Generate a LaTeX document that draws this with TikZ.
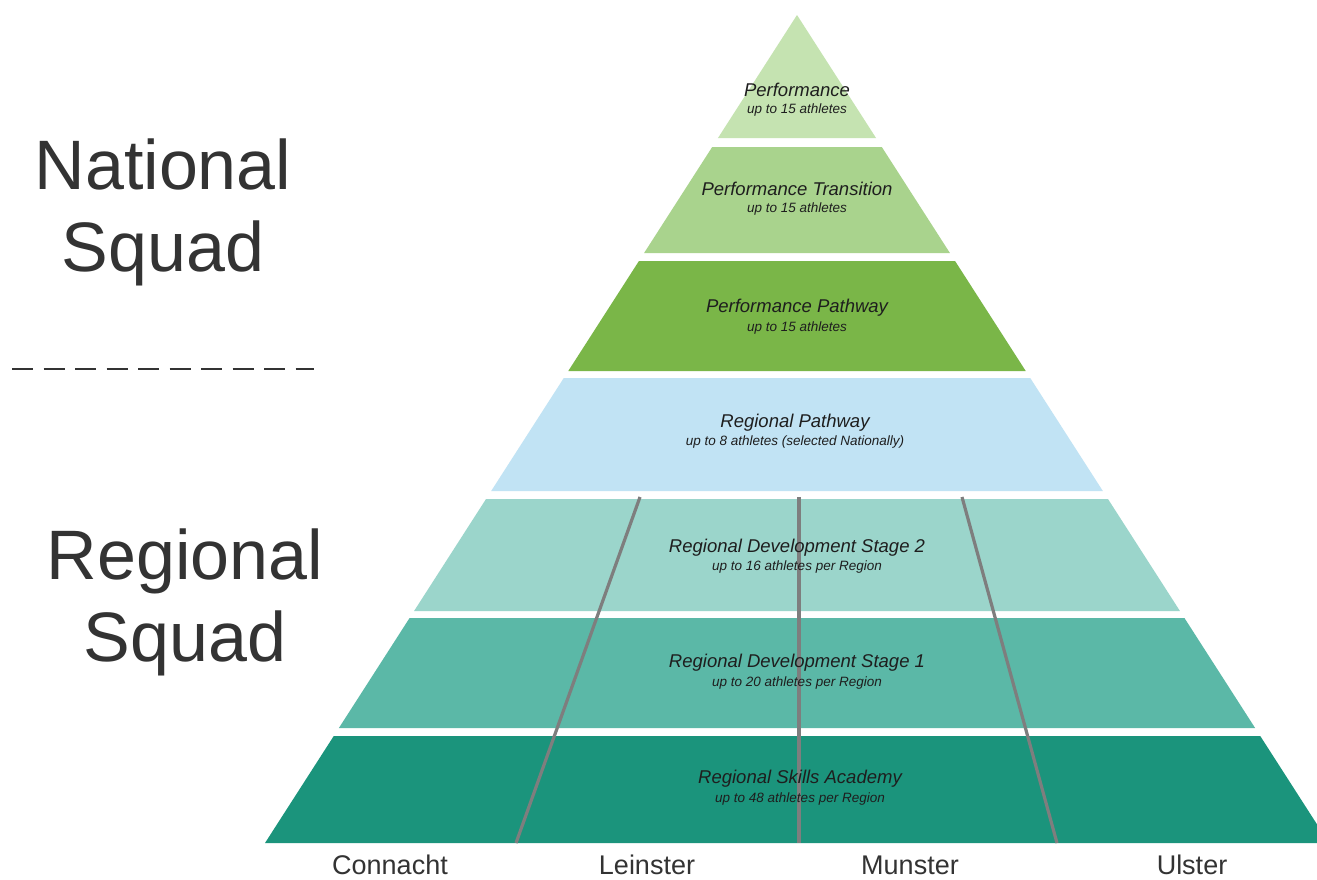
\documentclass[tikz,border=0pt]{standalone}
\usepackage{fontspec}
\setmainfont{Liberation Sans}
\definecolor{bandA}{HTML}{C5E3B1}
\definecolor{bandB}{HTML}{A9D38D}
\definecolor{bandC}{HTML}{7AB648}
\definecolor{bandD}{HTML}{C1E3F4}
\definecolor{bandE}{HTML}{9BD5CB}
\definecolor{bandF}{HTML}{5BB8A7}
\definecolor{bandG}{HTML}{1B947C}
\definecolor{divider}{HTML}{7E7E7E}
\definecolor{inktext}{HTML}{1E1E1E}
\definecolor{sidetext}{HTML}{333333}
\tikzset{
  tiertitle/.style={font=\itshape\fontsize{18.5}{21}\selectfont, text=inktext, inner sep=0pt},
  tiersub/.style={font=\itshape\fontsize{13.5}{15}\selectfont, text=inktext, inner sep=0pt},
  squad/.style={font=\fontsize{70}{80}\selectfont, text=sidetext, align=center, inner sep=0pt},
  region/.style={font=\fontsize{27}{30}\selectfont, text=sidetext, inner sep=0pt},
  divline/.style={draw=divider, line width=3.2pt},
}
\begin{document}
\begin{tikzpicture}[x=1pt,y=-1pt]
\useasboundingbox (0,0) rectangle (1317,879);
\fill[white] (0,0) rectangle (1317,879);

% pyramid tiers: apex at (797,15), side slope 0.6425 px per px
\foreach \ya/\yb/\col in {15/138/bandA, 147/253/bandB, 261/371/bandC,
                          378/491/bandD, 499/611/bandE, 618/728/bandF,
                          736/843/bandG} {
  \pgfmathsetmacro\wa{(\ya-15)*0.6425}
  \pgfmathsetmacro\wb{(\yb-15)*0.6425}
  \fill[\col] (797-\wa,\ya) -- (797+\wa,\ya) -- (797+\wb,\yb) -- (797-\wb,\yb) -- cycle;
}

% regional dividers
\draw[divline] (640,497) -- (516,843);
\draw[divline] (799,497) -- (799,843);
\draw[divline] (962,497) -- (1057,843);

% tier labels
\node[tiertitle] (t1) at (797,90)  {Performance};
\node[tiersub]   (s1) at (797,110) {up to 15 athletes};
\node[tiertitle] (t2) at (797,189) {Performance Transition};
\node[tiersub]   (s2) at (797,209) {up to 15 athletes};
\node[tiertitle] (t3) at (797,308) {Performance Pathway};
\node[tiersub]   (s3) at (797,328) {up to 15 athletes};
\node[tiertitle] (t4) at (795,423) {Regional Pathway};
\node[tiersub]   (s4) at (795,442) {up to 8 athletes (selected Nationally)};
\node[tiertitle] (t5) at (797,548) {Regional Development Stage 2};
\node[tiersub]   (s5) at (797,567) {up to 16 athletes per Region};
\node[tiertitle] (t6) at (797,663) {Regional Development Stage 1};
\node[tiersub]   (s6) at (797,683) {up to 20 athletes per Region};
\node[tiertitle] (t7) at (800,779) {Regional Skills Academy};
\node[tiersub]   (s7) at (800,799) {up to 48 athletes per Region};

% squad headings and separator
\node[squad, anchor=base] (nat1) at (163,189) {National};
\node[squad, anchor=base] (nat2) at (163,271) {Squad};
\node[squad, anchor=base] (reg1) at (185,579) {Regional};
\node[squad, anchor=base] (reg2) at (185,661) {Squad};
\coordinate (sepL) at (12,369);
\coordinate (sepR) at (314,369);
\draw[sidetext, line width=2.6pt, dash pattern=on 21pt off 10.5pt] (sepL) -- (sepR);

% region names
\node[region, anchor=base] (con) at (390,874) {Connacht};
\node[region, anchor=base] (lei) at (647,874) {Leinster};
\node[region, anchor=base] (mun) at (910,874) {Munster};
\node[region, anchor=base] (uls) at (1192,874) {Ulster};
\end{tikzpicture}
\end{document}
